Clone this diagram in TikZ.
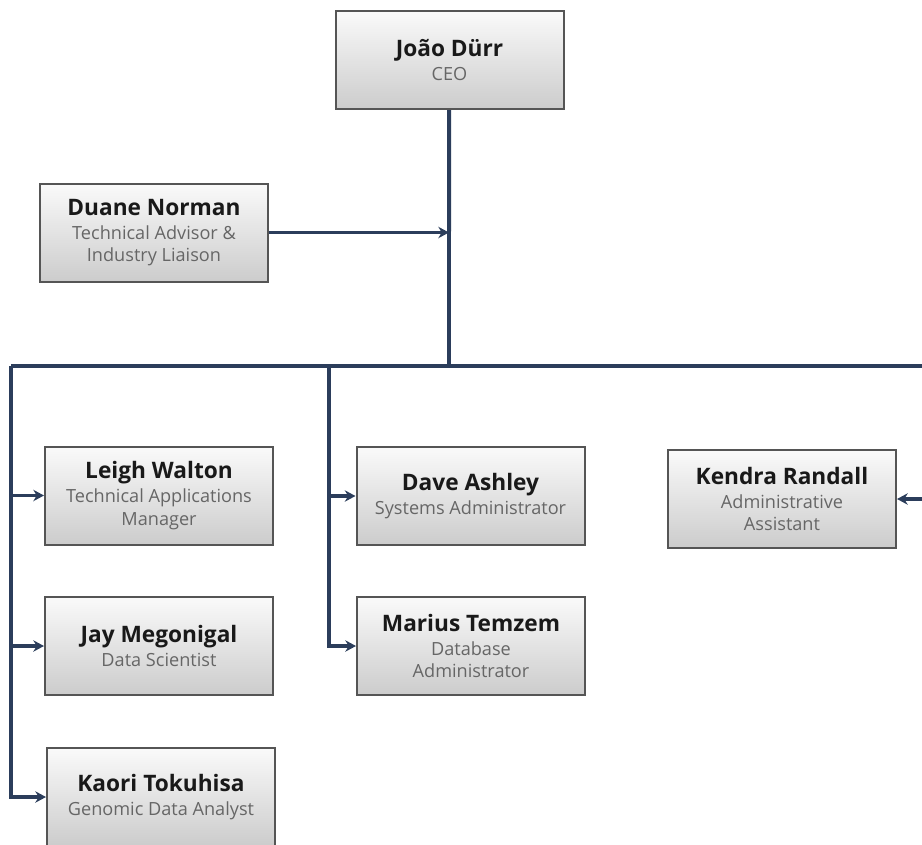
\documentclass[tikz,border=0pt]{standalone}
\usepackage{fontspec}
\setmainfont{Open Sans}
\usetikzlibrary{arrows.meta,shadows}
\definecolor{linec}{HTML}{2B3D5B}
\definecolor{boxb}{HTML}{555555}
\definecolor{subc}{HTML}{666666}
\newcommand{\pnamefont}{\fontsize{17}{19}\selectfont\bfseries\color{black!90}}
\newcommand{\prolefont}{\fontsize{13.6}{17}\selectfont\color{subc}}
\begin{document}
\begin{tikzpicture}[x=0.75pt,y=-0.75pt,
  box/.style={draw=boxb, line width=1.5pt, top color=gray!4, bottom color=gray!40,
    minimum width=171pt, minimum height=73.5pt, align=center, inner sep=1pt,
    font=\prolefont,
    drop shadow={opacity=0.2, shadow xshift=1pt, shadow yshift=-1pt}},
  conn/.style={draw=linec, line width=2.6pt},
  arr/.style={conn, -{Stealth[length=8pt,width=8.5pt,inset=2.5pt]}}]
\clip (0,0) rectangle (922,844);
\coordinate (hub) at (449,366);
\coordinate (lt) at (11,366);
\coordinate (mt) at (329,366);
\coordinate (rt) at (945,366);
\coordinate (rk) at (945,499);
\path[conn] (449,100) -- (hub);
\path[conn] (lt) -- (rt);
\node[box] (ceo) at (449.5,60) {{\pnamefont João Dürr}\\[1pt]CEO};
\node[box] (duane) at (154,232.5) {{\pnamefont Duane Norman}\\[1pt]Technical Advisor \&\\Industry Liaison};
\node[box] (leigh) at (159,495.5) {{\pnamefont Leigh Walton}\\[1pt]Technical Applications\\Manager};
\node[box] (jay) at (159,646) {{\pnamefont Jay Megonigal}\\[1pt]Data Scientist};
\node[box] (kaori) at (161,797) {{\pnamefont Kaori Tokuhisa}\\[1pt]Genomic Data Analyst};
\node[box] (dave) at (470.5,496) {{\pnamefont Dave Ashley}\\[1pt]Systems Administrator};
\node[box] (marius) at (471,646) {{\pnamefont Marius Temzem}\\[1pt]Database\\Administrator};
\node[box] (kendra) at (782,499) {{\pnamefont Kendra Randall}\\[1pt]Administrative\\Assistant};
\path[conn] (ceo.south) -- (hub);
\draw[arr] (duane.east) -- (duane.east -| hub);
\draw[arr] (lt) |- (leigh.west);
\draw[arr] (lt) |- (jay.west);
\draw[arr] (lt) |- (kaori.west);
\draw[arr] (mt) |- (dave.west);
\draw[arr] (mt) |- (marius.west);
\draw[arr] (rt) -- (rk) -- (kendra.east);
\end{tikzpicture}
\end{document}
